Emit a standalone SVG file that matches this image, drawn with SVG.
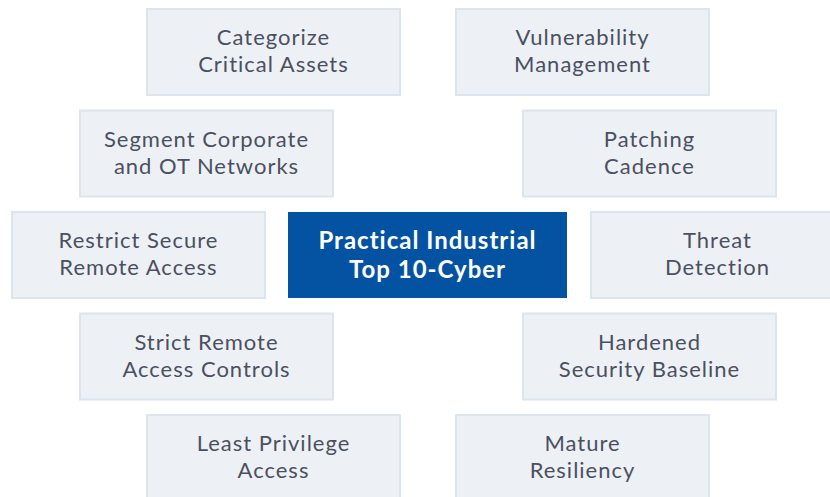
<svg xmlns="http://www.w3.org/2000/svg" width="830" height="497" viewBox="0 0 830 497">
<style>
.box{fill:#edf1f6;stroke:#dce4ee;stroke-width:2}
.lbl{font-family:Lato,"Open Sans",sans-serif;font-size:22px;letter-spacing:1px;fill:#4b5060;text-anchor:middle}
.core{fill:#0453a3}
.clbl{font-family:Lato,"Open Sans",sans-serif;font-size:24px;letter-spacing:1px;font-weight:bold;fill:#ffffff;text-anchor:middle}
</style>
<rect width="830" height="497" fill="#ffffff"/>
<g id="connectors"></g>
<g id="n1"><rect class="box" x="147" y="9" width="253" height="86"/><text class="lbl" x="273.5" y="45">Categorize</text><text class="lbl" x="273.5" y="72">Critical Assets</text></g>
<g id="n2"><rect class="box" x="456" y="9" width="253" height="86"/><text class="lbl" x="582.5" y="45">Vulnerability</text><text class="lbl" x="582.5" y="72">Management</text></g>
<g id="n3"><rect class="box" x="80" y="110.5" width="253" height="86"/><text class="lbl" x="206.5" y="147">Segment Corporate</text><text class="lbl" x="206.5" y="174">and OT Networks</text></g>
<g id="n4"><rect class="box" x="523" y="110.5" width="253" height="86"/><text class="lbl" x="649.5" y="147">Patching</text><text class="lbl" x="649.5" y="174">Cadence</text></g>
<g id="n5"><rect class="box" x="12" y="212" width="253" height="86"/><text class="lbl" x="138.5" y="248">Restrict Secure</text><text class="lbl" x="138.5" y="275">Remote Access</text></g>
<g id="center"><rect class="core" x="288" y="212" width="279" height="86"/><text class="clbl" x="427.5" y="249">Practical Industrial</text><text class="clbl" x="427.5" y="278">Top 10-Cyber</text></g>
<g id="n6"><rect class="box" x="591" y="212" width="253" height="86"/><text class="lbl" x="717.5" y="248">Threat</text><text class="lbl" x="717.5" y="275">Detection</text></g>
<g id="n7"><rect class="box" x="80" y="313.5" width="253" height="86"/><text class="lbl" x="206.5" y="350">Strict Remote</text><text class="lbl" x="206.5" y="377">Access Controls</text></g>
<g id="n8"><rect class="box" x="523" y="313.5" width="253" height="86"/><text class="lbl" x="649.5" y="350">Hardened</text><text class="lbl" x="649.5" y="377">Security Baseline</text></g>
<g id="n9"><rect class="box" x="147" y="415" width="253" height="86"/><text class="lbl" x="273.5" y="451">Least Privilege</text><text class="lbl" x="273.5" y="478">Access</text></g>
<g id="n10"><rect class="box" x="456" y="415" width="253" height="86"/><text class="lbl" x="582.5" y="451">Mature</text><text class="lbl" x="582.5" y="478">Resiliency</text></g>
</svg>
